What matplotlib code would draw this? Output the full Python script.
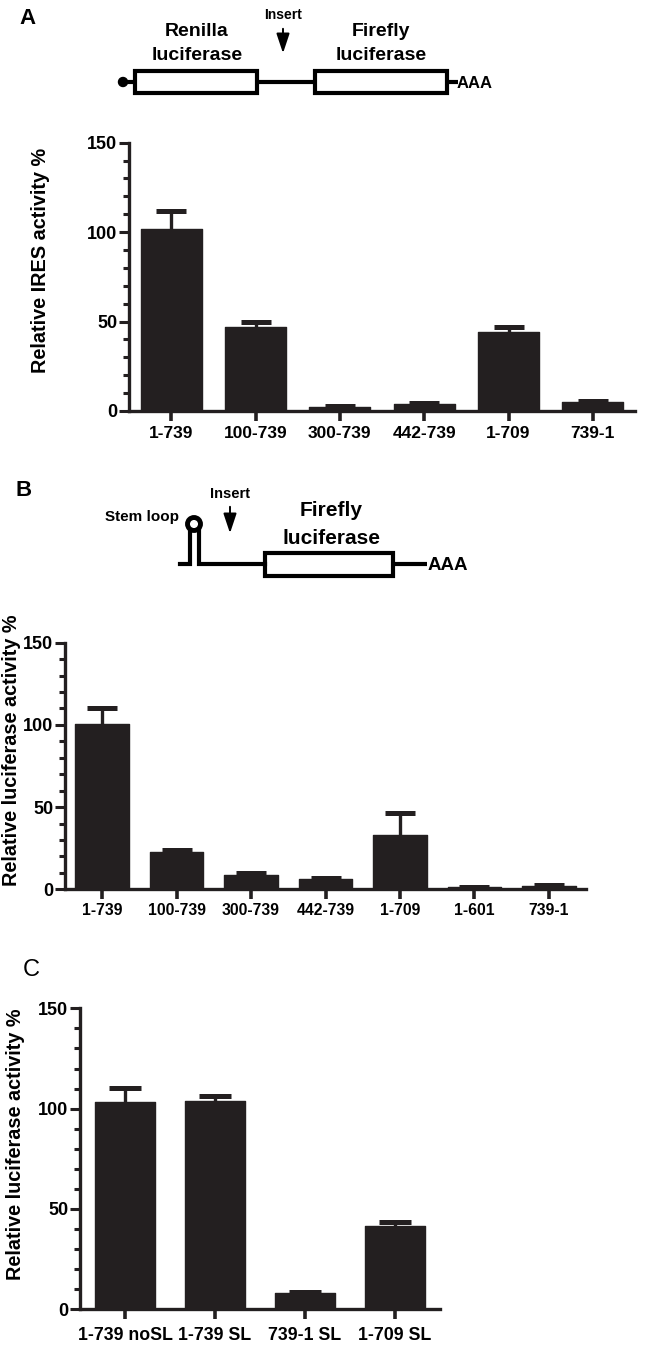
import matplotlib.pyplot as plt
from matplotlib.patches import Rectangle, Circle
from matplotlib.ticker import MultipleLocator
import numpy as np

plt.rcParams['font.family'] = ['Liberation Sans', 'DejaVu Sans']
plt.rcParams['font.weight'] = 'bold'
plt.rcParams['axes.labelweight'] = 'bold'

# Panel A: dual luciferase (IRES activity)
labels_a = ['1-739', '100-739', '300-739', '442-739', '1-709', '739-1']
mean_a = [101.5, 47.0, 2.4, 4.0, 44.0, 4.9]
err_a = [10.5, 3.0, 0.3, 0.6, 3.0, 0.8]

# Panel B: monocistronic firefly with stem loop
labels_b = ['1-739', '100-739', '300-739', '442-739', '1-709', '1-601', '739-1']
mean_b = [100.5, 22.9, 8.7, 6.1, 33.0, 1.2, 2.0]
err_b = [9.5, 1.2, 1.0, 0.7, 13.6, 0.4, 0.4]

# Panel C
labels_c = ['1-739 noSL', '1-739 SL', '739-1 SL', '1-709 SL']
mean_c = [103.4, 103.8, 8.0, 41.7]
err_c = [6.7, 2.5, 0.8, 2.0]

W, H = 666, 1353
dark = '#231f20'

fig = plt.figure(figsize=(W / 100, H / 100), dpi=100)

# overlay in pixel coordinates for the schematics and panel letters
ov = fig.add_axes([0, 0, 1, 1])
ov.set_xlim(0, W)
ov.set_ylim(H, 0)
ov.axis('off')
ov.patch.set_visible(False)

lw = 3
arrow = dict(arrowstyle='-|>,head_length=1.2,head_width=0.4', color='black', lw=1.4)

# --- schematic A ---
ov.add_patch(Circle((123, 82), 4.5, color='black'))
ov.plot([125, 135], [82, 82], color='black', lw=lw, solid_capstyle='butt')
ov.add_patch(Rectangle((135, 71), 122, 22, facecolor='white', edgecolor='black', lw=lw))
ov.plot([257, 315], [82, 82], color='black', lw=lw, solid_capstyle='butt')
ov.add_patch(Rectangle((315, 71), 132, 22, facecolor='white', edgecolor='black', lw=lw))
ov.plot([447, 458], [82, 82], color='black', lw=lw, solid_capstyle='butt')
ov.text(457, 83, 'AAA', fontsize=12, ha='left', va='center')
ov.text(197, 31, 'Renilla', fontsize=14, ha='center', va='center')
ov.text(197, 56, 'luciferase', fontsize=14, ha='center', va='center')
ov.text(381, 31, 'Firefly', fontsize=14, ha='center', va='center')
ov.text(381, 56, 'luciferase', fontsize=14, ha='center', va='center')
ov.text(283, 15, 'Insert', fontsize=10, ha='center', va='center')
ov.annotate('', xy=(283, 56), xytext=(283, 26), arrowprops=arrow)

# --- schematic B ---
ov.text(142, 517, 'Stem loop', fontsize=11, ha='center', va='center')
ov.text(230, 494, 'Insert', fontsize=10.5, ha='center', va='center')
ov.annotate('', xy=(230, 536), xytext=(230, 504), arrowprops=arrow)
ov.text(331, 511, 'Firefly', fontsize=15, ha='center', va='center')
ov.text(331, 539, 'luciferase', fontsize=15, ha='center', va='center')
ov.plot([180, 189.5, 189.5], [564, 564, 531], color='black', lw=lw, solid_joinstyle='miter')
ov.plot([198.5, 198.5, 265], [531, 564, 564], color='black', lw=lw, solid_joinstyle='miter')
ov.add_patch(Circle((194, 524), 6.5, facecolor='none', edgecolor='black', lw=lw + 0.5))
ov.add_patch(Rectangle((265, 553), 128, 23, facecolor='white', edgecolor='black', lw=lw))
ov.plot([393, 427], [564, 564], color='black', lw=lw, solid_capstyle='butt')
ov.text(428, 565, 'AAA', fontsize=13.5, ha='left', va='center')

# panel letters
ov.text(27, 18, 'A', fontsize=16, ha='center', va='center')
ov.text(24, 490, 'B', fontsize=16, ha='center', va='center')
ov.text(31, 970, 'C', fontsize=17, ha='center', va='center', fontweight='normal')


def bar_panel(px, labels, means, errs, width, ylabel, ylab_xy, xsize, capsize, xpad):
    left, right, y0, y150 = px
    ax = fig.add_axes([left / W, 1 - y0 / H, (right - left) / W, (y0 - y150) / H])
    x = np.arange(len(labels))
    means = np.array(means)
    errs = np.array(errs)
    ax.bar(x, means, width=width, color=dark, edgecolor=dark, linewidth=1,
           joinstyle='round', zorder=3)
    _, caps, _ = ax.errorbar(x, means, yerr=[np.zeros(len(errs)), errs], fmt='none',
                             ecolor=dark, elinewidth=2.4, capsize=capsize, capthick=3.6,
                             zorder=2)
    for c in caps:
        if np.allclose(c.get_ydata(), means):
            c.set_visible(False)
    ax.set_xlim(-0.5, len(labels) - 0.5)
    ax.set_ylim(0, 150)
    ax.set_yticks([0, 50, 100, 150])
    ax.yaxis.set_minor_locator(MultipleLocator(10))
    ax.set_xticks(x)
    ax.set_xticklabels(labels, fontsize=xsize, fontweight='bold')
    for s in ['top', 'right']:
        ax.spines[s].set_visible(False)
    for s in ['left', 'bottom']:
        ax.spines[s].set_linewidth(2.4)
        ax.spines[s].set_color(dark)
    ax.tick_params(axis='y', which='major', length=7, width=2.2, labelsize=13, pad=1.5,
                   color=dark)
    ax.tick_params(axis='y', which='minor', length=4, width=2.2, color=dark)
    ax.tick_params(axis='x', which='major', length=7, width=2.6, pad=xpad, color=dark)
    ax.patch.set_visible(False)
    ax.set_ylabel(ylabel, fontsize=14.3, fontweight='bold')
    ax.yaxis.set_label_coords((ylab_xy[0] - left) / (right - left),
                              (y0 - ylab_xy[1]) / (y0 - y150))
    return ax


bar_panel((129, 635, 411, 142.7), labels_a, mean_a, err_a, 0.72,
          'Relative IRES activity %', (50, 260), 12.5, 10.8, 4)
bar_panel((65, 586, 889.3, 642.7), labels_b, mean_b, err_b, 0.72,
          'Relative luciferase activity %', (21, 750), 11.3, 10.8, 3)
bar_panel((80, 440, 1309.3, 1008.3), labels_c, mean_c, err_c, 0.67,
          'Relative luciferase activity %', (25, 1144), 12.8, 11.8, 6)

fig.savefig('out.png', dpi=100)
